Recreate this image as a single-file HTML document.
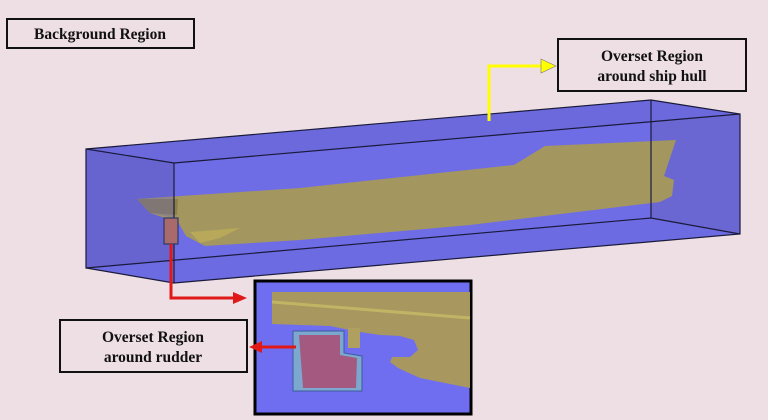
<!DOCTYPE html>
<html><head><meta charset="utf-8"><style>
html,body{margin:0;padding:0;background:#eedfe5;}
svg{display:block}
text{font-family:"Liberation Serif",serif;font-weight:bold;font-size:15.5px;fill:#111}
</style></head><body>
<svg width="768" height="420" viewBox="0 0 768 420">
<rect width="768" height="420" fill="#eedfe5"/>
<!-- box faces -->
<polygon points="86,149 651,100 740,114 740,234 174,283 86,268" fill="#6f6de6"/>
<polygon points="86,149 174,163 174,283 86,268" fill="#6864cf"/>
<polygon points="651,100 740,114 740,234 651,218" fill="#6a67d2"/>
<polygon points="86,268 651,218 740,234 174,283" fill="#6d6be2"/>
<polygon points="86,149 651,100 740,114 174,163" fill="#6b69dc"/>
<!-- hull -->
<path d="M137,199 L300,188 L514,165 L545,146 L676,140 L664,176 L674,180 L672,196 L660,202 L470,225 L300,240 L205,246 L186,236 L178,222 L150,213 Z" fill="#a3965f"/>
<path d="M137,199 L178,199 L177,215 L150,213 Z" fill="#8e8044"/>
<path d="M190,232 L240,228 L220,238 L200,243 Z" fill="#b7a85a"/>
<path d="M137,199 L174,197 L174,218 L150,213 Z" fill="#6864cf" fill-opacity="0.35"/>
<!-- edges -->
<g stroke="#1a1a3a" stroke-width="1.2" fill="none">
<polygon points="86,149 651,100 740,114 740,234 174,283 86,268"/>
<polyline points="86,149 174,163 740,114"/>
<line x1="174" y1="163" x2="174" y2="283"/>
<line x1="651" y1="100" x2="651" y2="218"/>
<polyline points="86,268 651,218 740,234"/>
</g>
<!-- rudder -->
<rect x="164" y="218" width="14" height="26" fill="#a86a6a" stroke="#2a3a6a" stroke-width="1.2"/>
<!-- yellow arrow -->
<polyline points="489,121 489,66 542,66" fill="none" stroke="#ffff00" stroke-width="3"/>
<polygon points="541,59 556,66 541,73" fill="#ffff00" stroke="#777" stroke-width="0.6"/>
<!-- red arrow -->
<polyline points="171,244 171,298 234,298" fill="none" stroke="#e01818" stroke-width="3"/>
<polygon points="233,292 247,298 233,304" fill="#e01818"/>
<!-- labels -->
<rect x="7" y="19" width="187" height="29" fill="#eedfe5" stroke="#111" stroke-width="2"/>
<text x="100" y="39" text-anchor="middle">Background Region</text>
<rect x="558" y="39" width="188" height="52" fill="#eedfe5" stroke="#111" stroke-width="2"/>
<text x="652" y="61" text-anchor="middle">Overset Region</text>
<text x="652" y="81" text-anchor="middle">around ship hull</text>
<rect x="60" y="320" width="187" height="52" fill="#eedfe5" stroke="#111" stroke-width="2"/>
<text x="153" y="342" text-anchor="middle">Overset Region</text>
<text x="153" y="362" text-anchor="middle">around rudder</text>
<!-- inset -->
<rect x="255" y="281" width="216" height="133" fill="#6f6ef0" stroke="#000" stroke-width="3"/>
<path d="M272,292 L470,292 L470,388 L420,378 L398,368 L390,362 L392,357 L410,357 L418,350 L414,340 L400,336 L380,335 L360,332 L330,326 L272,324 Z" fill="#a8975e"/>
<path d="M272,302 Q370,310 470,318" stroke="#c2b465" stroke-width="3" fill="none"/>
<rect x="348" y="328" width="12" height="20" fill="#b0a060"/>
<path d="M293,331 L344,331 L344,353 L362,356 L362,391 L293,391 Z" fill="#7ca8d0" stroke="#3c5a9a" stroke-width="1"/>
<path d="M299,335 L340,335 L340,355 L357,358 L356,388 L303,388 Z" fill="#a45a80"/>
<line x1="296" y1="347" x2="260" y2="347" stroke="#e01818" stroke-width="3"/>
<polygon points="262,341 249,347 262,353" fill="#e01818"/>
</svg>
</body></html>
